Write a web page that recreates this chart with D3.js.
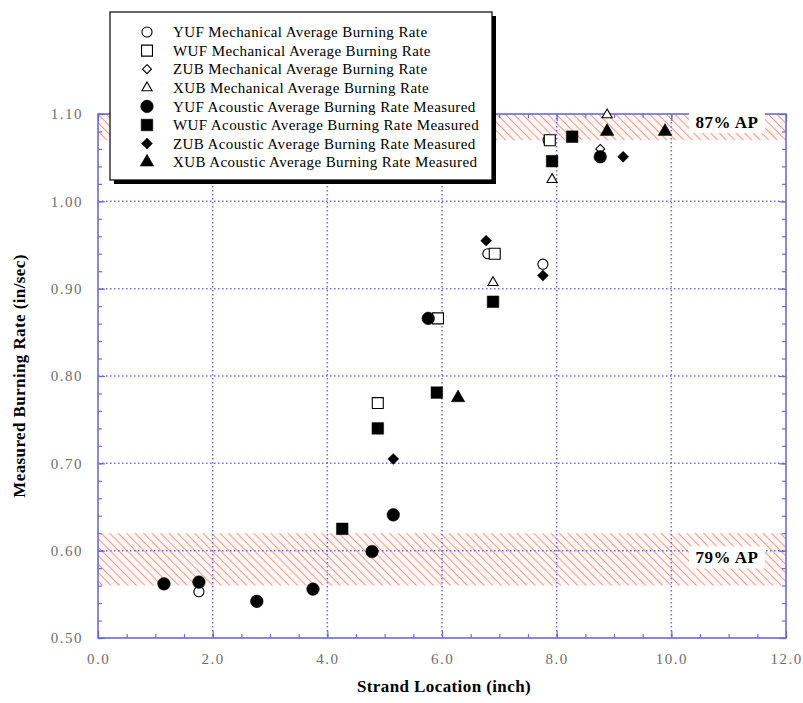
<!DOCTYPE html>
<html>
<head>
<meta charset="utf-8">
<script src="https://cdn.jsdelivr.net/npm/d3@7"></script>
<style>
  body { margin: 0; background: #fff; }
  svg { display: block; }
</style>
</head>
<body>
<div class="canvas"></div>
<script>
// strand location (inch) and measured burning rate (in/sec)
const yufMechX = [1.76, 6.80, 7.76, 7.85]
const yufMechY = [0.553, 0.940, 0.928, 1.070]
const wufMechX = [4.88, 5.93, 6.92, 7.88]
const wufMechY = [0.769, 0.866, 0.940, 1.070]
const zubMechX = [8.76]
const zubMechY = [1.060]
const xubMechX = [6.89, 7.92, 8.88]
const xubMechY = [0.907, 1.025, 1.099]
const yufAcX = [1.15, 1.76, 2.77, 3.75, 4.78, 5.15, 5.76, 8.76]
const yufAcY = [0.562, 0.564, 0.542, 0.556, 0.599, 0.641, 0.866, 1.051]
const wufAcX = [4.26, 4.88, 5.91, 6.89, 7.92, 8.27]
const wufAcY = [0.625, 0.740, 0.781, 0.885, 1.046, 1.074]
const zubAcX = [5.15, 6.77, 7.76, 9.16]
const zubAcY = [0.705, 0.955, 0.915, 1.051]
const xubAcX = [6.28, 8.88, 9.89]
const xubAcY = [0.775, 1.080, 1.080]

const legendLabels = [
  'YUF Mechanical Average Burning Rate',
  'WUF Mechanical Average Burning Rate',
  'ZUB Mechanical Average Burning Rate',
  'XUB Mechanical Average Burning Rate',
  'YUF Acoustic Average Burning Rate Measured',
  'WUF Acoustic Average Burning Rate Measured',
  'ZUB Acoustic Average Burning Rate Measured',
  'XUB Acoustic Average Burning Rate Measured',
]
const xTicks = [0, 2, 4, 6, 8, 10, 12]
const yTicks = [0.5, 0.6, 0.7, 0.8, 0.9, 1.0, 1.1]
// hatched composition bands: [low, high, label]
const bands = [
  [1.07, 1.10, '87% AP'],
  [0.56, 0.62, '79% AP'],
]

// a square turned 45deg, like the plot's diamonds
const diamond = {
  draw(ctx, size) {
    const r = Math.sqrt(size) / 2 * Math.SQRT2
    ctx.moveTo(0, -r)
    ctx.lineTo(r, 0)
    ctx.lineTo(0, r)
    ctx.lineTo(-r, 0)
    ctx.closePath()
  },
}

const zip = (xs, ys) => xs.map((x, i) => ({ x, y: ys[i] }))
const series = [
  { name: legendLabels[0], pts: zip(yufMechX, yufMechY), shape: d3.symbolCircle, size: 80, open: true },
  { name: legendLabels[1], pts: zip(wufMechX, wufMechY), shape: d3.symbolSquare, size: 120, open: true },
  { name: legendLabels[2], pts: zip(zubMechX, zubMechY), shape: diamond, size: 40, open: true },
  { name: legendLabels[3], pts: zip(xubMechX, xubMechY), shape: d3.symbolTriangle, size: 45, open: true },
  { name: legendLabels[4], pts: zip(yufAcX, yufAcY), shape: d3.symbolCircle, size: 125, open: false },
  { name: legendLabels[5], pts: zip(wufAcX, wufAcY), shape: d3.symbolSquare, size: 135, open: false },
  { name: legendLabels[6], pts: zip(zubAcX, zubAcY), shape: diamond, size: 60, open: false },
  { name: legendLabels[7], pts: zip(xubAcX, xubAcY), shape: d3.symbolTriangle, size: 80, open: false },
]

const W = 803, H = 703
const plot = { left: 98, right: 786, top: 114, bottom: 638 }
const axisColor = '#6b6bd6'
const serif = '"Liberation Serif", "DejaVu Serif", serif'

const svg = d3.select('.canvas').append('svg')
  .attr('width', W)
  .attr('height', H)
  .style('font-family', serif)

const x = d3.scaleLinear().domain([0, 12]).range([plot.left, plot.right])
const y = d3.scaleLinear().domain([0.5, 1.1]).range([plot.bottom, plot.top])

// hatch pattern for the bands (lines running top-left to bottom-right)
const defs = svg.append('defs')
const pat = defs.append('pattern')
  .attr('id', 'hatch')
  .attr('patternUnits', 'userSpaceOnUse')
  .attr('width', 6)
  .attr('height', 6)
  .attr('patternTransform', 'rotate(-45)')
pat.append('rect').attr('width', 6).attr('height', 6).attr('fill', '#fff6f4')
pat.append('line')
  .attr('x1', 0).attr('y1', 0).attr('x2', 0).attr('y2', 6)
  .attr('stroke', '#e8857a')
  .attr('stroke-width', 1.6)

svg.selectAll('rect.band')
  .data(bands)
  .enter()
  .append('rect')
  .attr('class', 'band')
  .attr('x', plot.left)
  .attr('width', plot.right - plot.left)
  .attr('y', (d) => y(d[1]))
  .attr('height', (d) => y(d[0]) - y(d[1]))
  .attr('fill', 'url(#hatch)')

// dotted grid
const grid = svg.append('g')
  .attr('stroke', axisColor)
  .attr('stroke-width', 1.5)
  .attr('stroke-dasharray', '1.5,2.5')
grid.selectAll('line.gx')
  .data(xTicks.slice(1, -1))
  .enter()
  .append('line')
  .attr('x1', (d) => x(d)).attr('x2', (d) => x(d))
  .attr('y1', plot.top).attr('y2', plot.bottom)
grid.selectAll('line.gy')
  .data(yTicks.slice(1, -1))
  .enter()
  .append('line')
  .attr('y1', (d) => y(d)).attr('y2', (d) => y(d))
  .attr('x1', plot.left).attr('x2', plot.right)

// axes with inward ticks on all four sides
const xMinor = d3.range(0, 12.01, 0.5)
const yMinor = d3.range(0.5, 1.101, 0.02)

const addAxis = (axis, tx, ty, labels) => {
  const g = svg.append('g')
    .attr('transform', `translate(${tx},${ty})`)
    .call(axis)
  g.selectAll('.domain').remove()
  g.selectAll('line').attr('stroke', axisColor).attr('stroke-width', 1.2)
  g.selectAll('text')
    .attr('fill', labels ? '#6e6e6e' : 'none')
    .style('font-size', '15px')
    .style('letter-spacing', '1.5px')
    .style('font-family', serif)
  return g
}

addAxis(d3.axisBottom(x).tickValues(xMinor).tickSize(-4).tickFormat(''), 0, plot.bottom, false)
addAxis(d3.axisTop(x).tickValues(xMinor).tickSize(-4).tickFormat(''), 0, plot.top, false)
addAxis(d3.axisLeft(y).tickValues(yMinor).tickSize(-4).tickFormat(''), plot.left, 0, false)
addAxis(d3.axisRight(y).tickValues(yMinor).tickSize(-4).tickFormat(''), plot.right, 0, false)

addAxis(d3.axisBottom(x).tickValues(xTicks).tickSize(-7).tickPadding(15).tickFormat(d3.format('.1f')), 0, plot.bottom, true)
addAxis(d3.axisLeft(y).tickValues(yTicks).tickSize(-7).tickPadding(15).tickFormat(d3.format('.2f')), plot.left, 0, true)
addAxis(d3.axisTop(x).tickValues(xTicks).tickSize(-7).tickFormat(''), 0, plot.top, false)
addAxis(d3.axisRight(y).tickValues(yTicks).tickSize(-7).tickFormat(''), plot.right, 0, false)

svg.append('rect')
  .attr('x', plot.left)
  .attr('y', plot.top)
  .attr('width', plot.right - plot.left)
  .attr('height', plot.bottom - plot.top)
  .attr('fill', 'none')
  .attr('stroke', axisColor)
  .attr('stroke-width', 1.6)

// band labels on white boxes
const bandLabels = svg.selectAll('g.blabel')
  .data(bands)
  .enter()
  .append('g')
  .attr('class', 'blabel')
  .attr('transform', (d) => `translate(727, ${(y(d[0]) + y(d[1])) / 2 + (d[0] > 1 ? -5 : -2)})`)
bandLabels.append('rect')
  .attr('x', -38).attr('y', -11)
  .attr('width', 76).attr('height', 22)
  .attr('fill', '#fff')
bandLabels.append('text')
  .attr('text-anchor', 'middle')
  .attr('dy', '0.35em')
  .style('font-size', '17px')
  .style('font-weight', 'bold')
  .style('letter-spacing', '0.5px')
  .text((d) => d[2])

// markers
const symbolPath = (s) => d3.symbol().type(s.shape).size(s.size)()
const marks = svg.append('g')
series.forEach((s) => {
  marks.append('g')
    .selectAll('path')
    .data(s.pts)
    .enter()
    .append('path')
    .attr('transform', (d) => `translate(${x(d.x)},${y(d.y)})`)
    .attr('d', symbolPath(s))
    .attr('fill', s.open ? '#fff' : '#000')
    .attr('stroke', '#000')
    .attr('stroke-width', s.open ? 1.1 : 0.5)
})

// axis titles
svg.append('text')
  .attr('x', 444)
  .attr('y', 692)
  .attr('text-anchor', 'middle')
  .style('font-size', '17px')
  .style('font-weight', 'bold')
  .style('letter-spacing', '0.4px')
  .text('Strand Location (inch)')

svg.append('text')
  .attr('transform', `translate(25, ${(plot.top + plot.bottom) / 2}) rotate(-90)`)
  .attr('text-anchor', 'middle')
  .style('font-size', '17px')
  .style('font-weight', 'bold')
  .style('letter-spacing', '0.4px')
  .text('Measured Burning Rate (in/sec)')

// legend box with drop shadow
const lg = { x: 110, y: 12, w: 382, h: 168 }
svg.append('rect')
  .attr('x', lg.x + 4).attr('y', lg.y + 4)
  .attr('width', lg.w).attr('height', lg.h)
  .attr('fill', '#000')
svg.append('rect')
  .attr('x', lg.x).attr('y', lg.y)
  .attr('width', lg.w).attr('height', lg.h)
  .attr('fill', '#fff')
  .attr('stroke', '#000')
  .attr('stroke-width', 1.2)

const rows = svg.selectAll('g.lrow')
  .data(series)
  .enter()
  .append('g')
  .attr('class', 'lrow')
  .attr('transform', (d, i) => `translate(${lg.x}, ${lg.y + 20 + i * 18.6})`)
rows.append('path')
  .attr('transform', 'translate(37,0)')
  .attr('d', (d) => symbolPath(d))
  .attr('fill', (d) => (d.open ? '#fff' : '#000'))
  .attr('stroke', '#000')
  .attr('stroke-width', (d) => (d.open ? 1.1 : 0.5))
rows.append('text')
  .attr('x', 63)
  .attr('dy', '0.35em')
  .style('font-size', '15px')
  .style('letter-spacing', '0.4px')
  .text((d) => d.name)
</script>
</body>
</html>
